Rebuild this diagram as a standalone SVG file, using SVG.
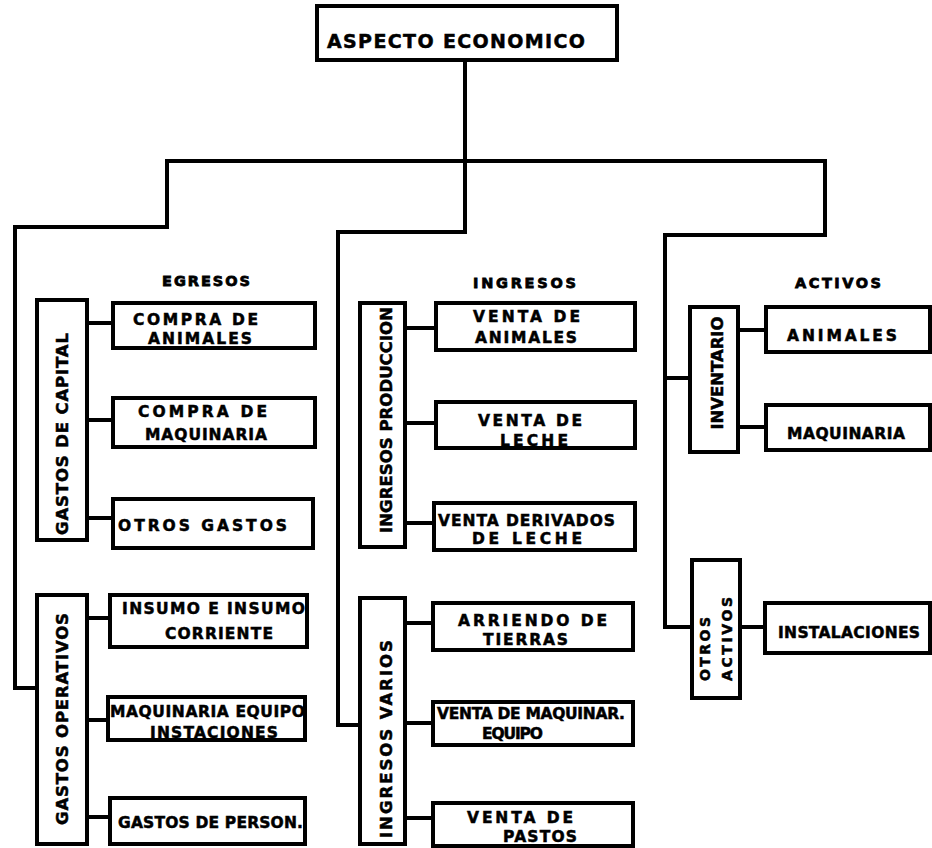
<svg xmlns="http://www.w3.org/2000/svg" width="932" height="848" viewBox="0 0 932 848">
  <style>
    .box { fill: #fff; stroke: #000; stroke-width: 4; }
    .wire { fill: none; stroke: #000; stroke-width: 4; stroke-linejoin: miter; stroke-linecap: square; }
    text { font-family: "DejaVu Sans", "Liberation Sans", Arial, sans-serif; font-weight: bold; fill: #000; stroke: #000; stroke-width: 0.5; }
    .t { font-size: 15.5px; }
    .h { font-size: 14.5px; stroke-width: 0.8; }
    .v { font-size: 16.5px; text-anchor: middle; }
    .vs { font-size: 14px; }
    .title { font-size: 19px; }
  </style>
  <rect width="932" height="848" fill="#fff"/>

  <!-- connectors -->
  <g id="connectors">
    <!-- trunk and main bus -->
    <polyline class="wire" points="465,60 465,232 338,232 338,725 360,725"/>
    <polyline class="wire" points="167,227 167,161 825,161 825,235 665,235 665,627 692,627"/>
    <polyline class="wire" points="167,227 15,227 15,688 37,688"/>
    <line class="wire" x1="665" y1="378" x2="690" y2="378"/>
    <!-- egresos -->
    <line class="wire" x1="87" y1="323" x2="113" y2="323"/>
    <line class="wire" x1="87" y1="420" x2="113" y2="420"/>
    <line class="wire" x1="87" y1="518" x2="113" y2="518"/>
    <line class="wire" x1="87" y1="618" x2="110" y2="618"/>
    <line class="wire" x1="87" y1="720" x2="108" y2="720"/>
    <line class="wire" x1="87" y1="817" x2="110" y2="817"/>
    <!-- ingresos -->
    <line class="wire" x1="405" y1="328" x2="436" y2="328"/>
    <line class="wire" x1="405" y1="423" x2="436" y2="423"/>
    <line class="wire" x1="405" y1="523" x2="434" y2="523"/>
    <line class="wire" x1="405" y1="623" x2="433" y2="623"/>
    <line class="wire" x1="405" y1="723" x2="433" y2="723"/>
    <line class="wire" x1="405" y1="818" x2="433" y2="818"/>
    <!-- activos -->
    <line class="wire" x1="738" y1="330" x2="766" y2="330"/>
    <line class="wire" x1="738" y1="427" x2="766" y2="427"/>
    <line class="wire" x1="740" y1="627" x2="765" y2="627"/>
  </g>

  <!-- root -->
  <g id="aspecto-economico">
    <rect class="box" x="317" y="6" width="300" height="54"/>
    <text class="title" x="327" y="48" textLength="258" lengthAdjust="spacing">ASPECTO   ECONOMICO</text>
  </g>

  <!-- section headings -->
  <text class="h" x="162" y="286" textLength="88" lengthAdjust="spacing">EGRESOS</text>
  <text class="h" x="473" y="288" textLength="103" lengthAdjust="spacing">INGRESOS</text>
  <text class="h" x="795" y="288" textLength="86" lengthAdjust="spacing">ACTIVOS</text>

  <!-- egresos -->
  <g id="gastos-capital">
    <rect class="box" x="37" y="300" width="50" height="240"/>
    <text class="v" transform="translate(68,434) rotate(-90)" textLength="202" lengthAdjust="spacing">GASTOS  DE  CAPITAL</text>
  </g>
  <g id="compra-animales">
    <rect class="box" x="113" y="303" width="202" height="45"/>
    <text class="t" x="133" y="325" textLength="125" lengthAdjust="spacing">COMPRA  DE</text>
    <text class="t" x="148" y="344" textLength="104" lengthAdjust="spacing">ANIMALES</text>
  </g>
  <g id="compra-maquinaria">
    <rect class="box" x="113" y="398" width="202" height="49"/>
    <text class="t" x="138" y="417" textLength="129" lengthAdjust="spacing">COMPRA  DE</text>
    <text class="t" x="145" y="440" textLength="122" lengthAdjust="spacing">MAQUINARIA</text>
  </g>
  <g id="otros-gastos">
    <rect class="box" x="113" y="499" width="200" height="49"/>
    <text class="t" x="118" y="531" textLength="169" lengthAdjust="spacing">OTROS   GASTOS</text>
  </g>
  <g id="gastos-operativos">
    <rect class="box" x="37" y="595" width="50" height="249"/>
    <text class="v" transform="translate(68,719) rotate(-90)" textLength="212" lengthAdjust="spacing">GASTOS   OPERATIVOS</text>
  </g>
  <g id="insumo-corriente">
    <rect class="box" x="110" y="595" width="197" height="52"/>
    <text class="t" x="122" y="614" textLength="183" lengthAdjust="spacing">INSUMO  E  INSUMO</text>
    <text class="t" x="165" y="639" textLength="108" lengthAdjust="spacing">CORRIENTE</text>
  </g>
  <g id="maquinaria-equipo">
    <rect class="box" x="108" y="697" width="197" height="43"/>
    <text class="t" x="110" y="717" textLength="195" lengthAdjust="spacing">MAQUINARIA EQUIPO</text>
    <text class="t" x="150" y="738" textLength="128" lengthAdjust="spacing">INSTACIONES</text>
  </g>
  <g id="gastos-personal">
    <rect class="box" x="110" y="798" width="195" height="46"/>
    <text class="t" x="118" y="828" textLength="185" lengthAdjust="spacing">GASTOS DE PERSON.</text>
  </g>

  <!-- ingresos -->
  <g id="ingresos-produccion">
    <rect class="box" x="360" y="303" width="45" height="244"/>
    <text class="v" transform="translate(392,420) rotate(-90)" textLength="226" lengthAdjust="spacing">INGRESOS  PRODUCCION</text>
  </g>
  <g id="venta-animales">
    <rect class="box" x="436" y="303" width="199" height="47"/>
    <text class="t" x="473" y="322" textLength="107" lengthAdjust="spacing">VENTA  DE</text>
    <text class="t" x="475" y="343" textLength="102" lengthAdjust="spacing">ANIMALES</text>
  </g>
  <g id="venta-leche">
    <rect class="box" x="436" y="402" width="199" height="46"/>
    <text class="t" x="478" y="426" textLength="104" lengthAdjust="spacing">VENTA  DE</text>
    <text class="t" x="500" y="446" textLength="68" lengthAdjust="spacing">LECHE</text>
  </g>
  <g id="venta-derivados">
    <rect class="box" x="434" y="503" width="201" height="47"/>
    <text class="t" x="438" y="526" textLength="177" lengthAdjust="spacing">VENTA DERIVADOS</text>
    <text class="t" x="472" y="544" textLength="110" lengthAdjust="spacing">DE   LECHE</text>
  </g>
  <g id="ingresos-varios">
    <rect class="box" x="360" y="598" width="45" height="246"/>
    <text class="v" transform="translate(392,739) rotate(-90)" textLength="198" lengthAdjust="spacing">INGRESOS   VARIOS</text>
  </g>
  <g id="arriendo-tierras">
    <rect class="box" x="433" y="603" width="200" height="47"/>
    <text class="t" x="458" y="626" textLength="149" lengthAdjust="spacing">ARRIENDO  DE</text>
    <text class="t" x="483" y="645" textLength="85" lengthAdjust="spacing">TIERRAS</text>
  </g>
  <g id="venta-maquinaria">
    <rect class="box" x="433" y="702" width="200" height="43"/>
    <text class="t" x="437" y="719" textLength="188" lengthAdjust="spacing">VENTA DE MAQUINAR.</text>
    <text class="t" x="482" y="739" textLength="61" lengthAdjust="spacing">EQUIPO</text>
  </g>
  <g id="venta-pastos">
    <rect class="box" x="433" y="803" width="200" height="43"/>
    <text class="t" x="467" y="823" textLength="106" lengthAdjust="spacing">VENTA  DE</text>
    <text class="t" x="503" y="842" textLength="74" lengthAdjust="spacing">PASTOS</text>
  </g>

  <!-- activos -->
  <g id="inventario">
    <rect class="box" x="690" y="307" width="48" height="145"/>
    <text class="v" transform="translate(723,373) rotate(-90)" textLength="113" lengthAdjust="spacing">INVENTARIO</text>
  </g>
  <g id="animales">
    <rect class="box" x="766" y="307" width="164" height="45"/>
    <text class="t" x="787" y="341" textLength="110" lengthAdjust="spacing">ANIMALES</text>
  </g>
  <g id="maquinaria">
    <rect class="box" x="766" y="405" width="164" height="45"/>
    <text class="t" x="787" y="439" textLength="118" lengthAdjust="spacing">MAQUINARIA</text>
  </g>
  <g id="otros-activos">
    <rect class="box" x="692" y="560" width="48" height="138"/>
    <text class="vs" transform="translate(710,681) rotate(-90)" textLength="64" lengthAdjust="spacing">OTROS</text>
    <text class="vs" transform="translate(732,681) rotate(-90)" textLength="84" lengthAdjust="spacing">ACTIVOS</text>
  </g>
  <g id="instalaciones">
    <rect class="box" x="765" y="603" width="165" height="50"/>
    <text class="t" x="778" y="638" textLength="142" lengthAdjust="spacing">INSTALACIONES</text>
  </g>
</svg>
